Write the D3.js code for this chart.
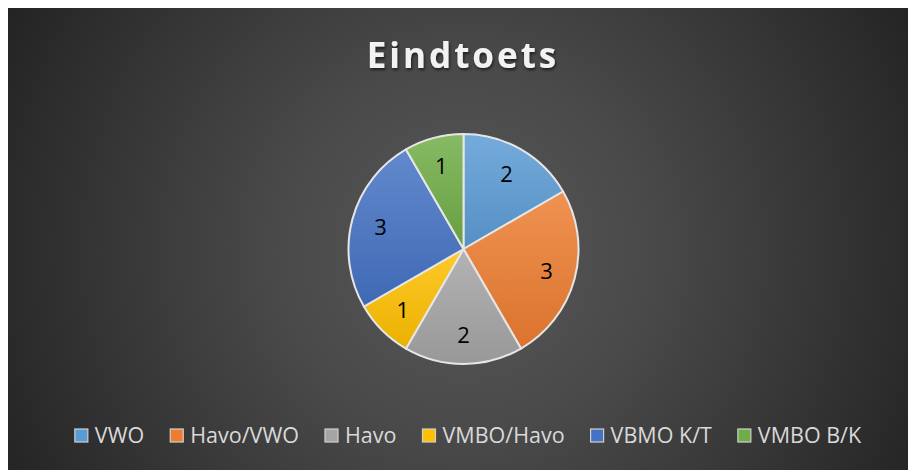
<!DOCTYPE html>
<html><head><meta charset="utf-8">
<script src="https://cdn.jsdelivr.net/npm/d3@7"></script>
<style>
html,body{margin:0;padding:0;background:#fff;}
svg{display:block;}
</style></head>
<body>
<svg id="chart" width="909" height="470"></svg>
<script>
const categories = ["VWO", "Havo/VWO", "Havo", "VMBO/Havo", "VBMO K/T", "VMBO B/K"];
const values = [2, 3, 2, 1, 3, 1];
const colors = ["#5B9BD5", "#ED7D31", "#A5A5A5", "#FFC000", "#4472C4", "#70AD47"];
const title = "Eindtoets";

const svg = d3.select("#chart");
const defs = svg.append("defs");

const bg = defs.append("radialGradient").attr("id", "bg")
  .attr("gradientUnits", "userSpaceOnUse")
  .attr("cx", 463).attr("cy", 250).attr("r", 520);
bg.append("stop").attr("offset", "0").attr("stop-color", "#585858");
bg.append("stop").attr("offset", "0.35").attr("stop-color", "#4a4a4a");
bg.append("stop").attr("offset", "1").attr("stop-color", "#232323");

svg.append("rect").attr("x", 8).attr("y", 8).attr("width", 900).attr("height", 462)
  .attr("fill", "url(#bg)");

const f = defs.append("filter").attr("id", "ts").attr("x", "-20%").attr("y", "-40%").attr("width", "140%").attr("height", "180%");
f.append("feDropShadow").attr("dx", 1).attr("dy", 2).attr("stdDeviation", 1.5)
  .attr("flood-color", "#000").attr("flood-opacity", 0.6);

svg.append("text").attr("x", 463).attr("y", 68)
  .attr("text-anchor", "middle")
  .attr("font-family", "'Open Sans', sans-serif")
  .attr("font-weight", "bold").attr("font-size", 35)
  .attr("letter-spacing", 3)
  .attr("fill", "#f2f2f2")
  .attr("filter", "url(#ts)")
  .text(title);

colors.forEach((c, i) => {
  const g = defs.append("linearGradient").attr("id", "g" + i)
    .attr("x1", 0).attr("y1", 0).attr("x2", 0).attr("y2", 1);
  g.append("stop").attr("offset", "0").attr("stop-color", d3.interpolateRgb(c, "#fff")(0.16));
  g.append("stop").attr("offset", "1").attr("stop-color", d3.interpolateRgb(c, "#000")(0.08));
});

const cx = 463.5, cy = 249, R = 115;
const pie = d3.pie().sort(null).value(d => d.v);
const arcs = pie(categories.map((c, i) => ({ c, v: values[i], i })));
const arc = d3.arc().innerRadius(0).outerRadius(R);
const labelArc = d3.arc().innerRadius(86).outerRadius(86);

const g = svg.append("g").attr("transform", `translate(${cx},${cy})`);
g.selectAll("path").data(arcs).join("path")
  .attr("d", arc)
  .attr("fill", d => `url(#g${d.data.i})`)
  .attr("stroke", "#e6e6e6").attr("stroke-width", 2).attr("stroke-linejoin", "round");

g.selectAll("text").data(arcs).join("text")
  .attr("transform", d => `translate(${labelArc.centroid(d)})`)
  .attr("text-anchor", "middle").attr("dy", "0.36em")
  .attr("font-family", "'Open Sans', sans-serif").attr("font-size", 22)
  .attr("fill", "#000")
  .text(d => d.data.v);

// legend
const lg = svg.append("g");
const items = lg.selectAll("g").data(categories).join("g");
items.append("rect").attr("width", 13).attr("height", 13).attr("y", -14)
  .attr("fill", (d, i) => colors[i]).attr("stroke", "#d0d0d0").attr("stroke-width", 1.2);
items.append("text").attr("x", 20).attr("y", 0)
  .attr("font-family", "'Open Sans', sans-serif").attr("font-size", 21.5)
  .attr("fill", "#d9d9d9").text(d => d);
let x = 0;
items.each(function () {
  const w = d3.select(this).select("text").node().getComputedTextLength();
  d3.select(this).attr("transform", `translate(${x},0)`);
  x += 20 + w + 26;
});
const total = x - 26;
lg.attr("transform", `translate(${468 - total / 2},443)`);
</script>
</body></html>
